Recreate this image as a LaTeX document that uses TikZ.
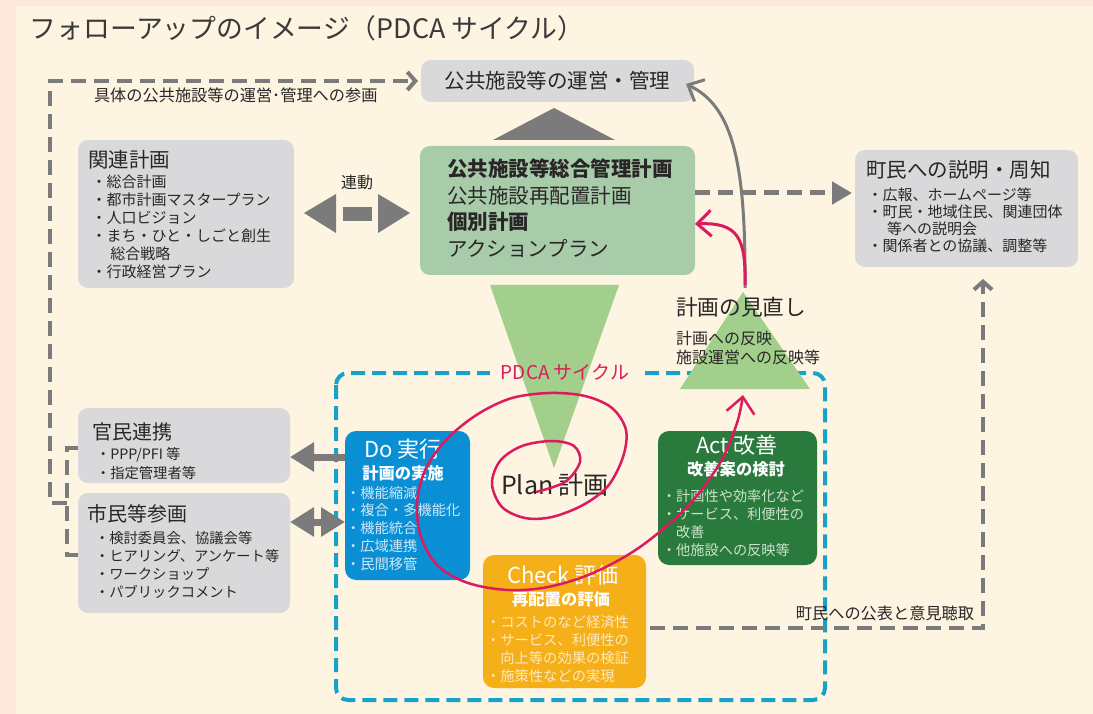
\documentclass[tikz,border=0pt]{standalone}
\usepackage{fontspec}
\setmainfont{Noto Sans CJK JP}
\usetikzlibrary{arrows.meta}
\definecolor{pinkbg}{HTML}{FBE8DA}
\definecolor{creambg}{HTML}{FDF4E1}
\definecolor{boxgray}{HTML}{D9D9DB}
\definecolor{sage}{HTML}{A8CCA9}
\definecolor{lgreen}{HTML}{A2CF8B}
\definecolor{agray}{HTML}{7B7B7B}
\definecolor{txt}{HTML}{2A2627}
\definecolor{titlec}{HTML}{3A3A3A}
\definecolor{doblue}{HTML}{0A8FD5}
\definecolor{doitem}{HTML}{CDE7F7}
\definecolor{actgreen}{HTML}{2B7A3D}
\definecolor{actitem}{HTML}{C9E4CA}
\definecolor{chkorange}{HTML}{F5AF19}
\definecolor{chkitem}{HTML}{FDE9BC}
\definecolor{cyanline}{HTML}{16A2C9}
\definecolor{mag}{HTML}{DC1A5E}
\newcommand\fs[2]{\fontsize{#1}{#2}\selectfont}
\tikzset{fathead/.tip={Triangle[length=24pt,width=28pt]}}
\begin{document}
\begin{tikzpicture}[x=1pt,y=-1pt,
  every node/.style={inner sep=0pt,outer sep=0pt},
  gbox/.style={fill=boxgray,rounded corners=10pt,anchor=north west},
  pbox/.style={rounded corners=11pt,anchor=north west},
  gdash/.style={draw=agray,line width=4pt,dash pattern=on 15pt off 8pt},
  fat/.style={draw=agray,line width=7pt},
  items/.style={anchor=north west,align=left},
]
% background
\fill[pinkbg] (0,0) rectangle (1093,714);
\fill[creambg] (16,6) rectangle (1093,714);

% title
\node[anchor=west,font=\fs{26.8}{30},text=titlec] (title) at (30,28) {フォローアップのイメージ（PDCA サイクル）};

% PDCA dashed frame
\draw[cyanline,line width=4pt,dash pattern=on 14pt off 7pt,rounded corners=12pt] (336,373) rectangle (825,700);
\fill[creambg] (490,364) rectangle (640,382);

% triangles
\fill[agray] (493,140) -- (615,140) -- (554,108) -- cycle;
\fill[lgreen] (490,285) -- (619,285) -- (554,468) -- cycle;
\fill[lgreen] (680,389) -- (810,389) -- (743,292) -- cycle;

\node[font=\fs{19}{22},text=mag] (pdcal) at (565,372) {PDCA サイクル};

% top box
\node[gbox,minimum width=273pt,minimum height=42pt,font=\fs{20.5}{24},text=txt] (unei) at (421,60) {公共施設等の運営・管理};

% related plans
\node[gbox,minimum width=216pt,minimum height=148pt] (kanren) at (78,140) {};
\node[anchor=west,font=\fs{20.5}{24},text=txt] (kanrenT) at (88,160) {関連計画};
\node[items,font=\fs{15}{18},text=txt] (kanrenI) at (91.5,175) {・総合計画\\・都市計画マスタープラン\\・人口ビジョン\\・まち・ひと・しごと創生\\\hspace{1.25em}総合戦略\\・行政経営プラン};

% rendo arrow
\node[font=\fs{16}{19},text=txt] (rendo) at (357,182) {連動};
\fill[agray] (304,213) -- (336,194) -- (336,233) -- cycle;
\fill[agray] (343,207) rectangle (372,221);
\fill[agray] (410,213) -- (378,194) -- (378,233) -- cycle;

% main green box
\node[pbox,fill=sage,rounded corners=10pt,minimum width=275pt,minimum height=129pt] (main) at (420,146) {};
\node[items,font=\fs{20.5}{26.5},text=txt] (mainT) at (447,159) {\bfseries 公共施設等総合管理計画\\公共施設再配置計画\\\bfseries 個別計画\\アクションプラン};

% town box
\node[gbox,minimum width=223pt,minimum height=117pt] (machi) at (855,150) {};
\node[anchor=west,font=\fs{20.5}{24},text=txt] (machiT) at (866,170) {町民への説明・周知};
\node[items,font=\fs{15}{17},text=txt] (machiI) at (867.5,187.5) {・広報、ホームページ等\\・町民・地域住民、関連団体\\\hspace{1.3em}等への説明会\\・関係者との協議、調整等};

% dashed green -> town
\draw[gdash,line width=5pt,-{Triangle[length=20pt,width=22pt]}] (main.east |- 0,193) -- ([xshift=-3pt]machi.west |- 0,193);

% review texts
\node[anchor=west,font=\fs{21.7}{25},text=txt] (minaoshi) at (676,307) {計画の見直し};
\node[items,font=\fs{16}{19},text=txt] (minaoshiI) at (676,331) {計画への反映\\施設運営への反映等};

% curved arrows
\coordinate (apex) at (745,288);
\coordinate (gtip) at (686,84);
\coordinate (mtip) at (695,224);
\draw[agray,line width=3pt,-{Straight Barb[length=13pt,width=24pt]}] (apex) .. controls (746,160) and (732,106) .. (gtip);
\draw[mag,line width=3pt,-{Straight Barb[length=14pt,width=26pt]}] ([yshift=3pt]apex) .. controls (746,238) and (738,222) .. (mtip);

% left boxes
\node[gbox,minimum width=212pt,minimum height=75pt] (kanmin) at (78,408) {};
\node[anchor=west,font=\fs{20}{24},text=txt] (kanminT) at (92,432) {官民連携};
\node[items,font=\fs{14.3}{19},text=txt] (kanminI) at (96,447) {・PPP/PFI 等\\・指定管理者等};
\node[gbox,minimum width=212pt,minimum height=120pt] (shimin) at (78,493) {};
\node[anchor=west,font=\fs{20}{24},text=txt] (shiminT) at (87,514) {市民等参画};
\node[items,font=\fs{14.3}{18},text=txt] (shiminI) at (95,531) {・検討委員会、協議会等\\・ヒアリング、アンケート等\\・ワークショップ\\・パブリックコメント};

% left dashed connectors
\draw[gdash] (kanmin.west |- 0,448) -- (67,448) -- (67,555) -- (shimin.west |- 0,555);
\draw[gdash,-{Straight Barb[length=8pt,width=18pt]}] (67,503) -- (50,503) -- (50,81) -- ([xshift=-3pt]unei.west);
\node[anchor=west,font=\fs{16.2}{18},text=txt] (sankaku) at (94,95) {具体の公共施設等の運営･管理への参画};

% Do
\node[pbox,fill=doblue,minimum width=125pt,minimum height=149pt] (do) at (345,431) {};
\node[font=\fs{22}{26},text=white] (doT) at (403,449) {Do 実行};
\node[font=\fs{16.3}{19}\bfseries,text=white] (doS) at (403,473) {計画の実施};
\node[items,font=\fs{14.3}{17.8},text=doitem] (doI) at (346,486) {・機能縮減\\・複合・多機能化\\・機能統合\\・広域連携\\・民間移管};

% Act
\node[pbox,fill=actgreen,minimum width=159pt,minimum height=134pt] (act) at (658,431) {};
\node[font=\fs{22}{26},text=white] (actT) at (737,445) {Act 改善};
\node[font=\fs{16.3}{19}\bfseries,text=white] (actS) at (736,469) {改善案の検討};
\node[items,font=\fs{14.2}{17.7},text=actitem] (actI) at (662,490) {・計画性や効率化など\\・サービス、利便性の\\\hspace{1em}改善\\・他施設への反映等};

% Check
\node[pbox,fill=chkorange,minimum width=163pt,minimum height=133pt] (chk) at (483,555) {};
\node[font=\fs{22}{26},text=white] (chkT) at (563,575) {Check 評価};
\node[font=\fs{16.3}{19}\bfseries,text=white] (chkS) at (561,599) {再配置の評価};
\node[items,font=\fs{14.3}{18},text=chkitem] (chkI) at (486,615) {・コストのなど経済性\\・サービス、利便性の\\\hspace{1em}向上等の効果の検証\\・施策性などの実現};

% Plan
\node[font=\fs{25}{30},text=txt] (plan) at (555,485) {Plan 計画};

% arrows between Do and left boxes
\draw[fat,-{fathead}] (do.west |- 0,457) -- (kanmin.east |- 0,457);
\draw[fat,{fathead}-{fathead}] (shimin.east |- 0,522) -- (do.west |- 0,522);

% check -> town dashed
\draw[gdash,-{Straight Barb[length=8pt,width=18pt]}] ([xshift=4pt]chk.east |- 0,628) -| ([yshift=-12pt]machi.south -| 983,0);
\node[font=\fs{16.2}{19},text=txt] (kohyo) at (885,613) {町民への公表と意見聴取};

% spiral
\coordinate (sptip) at (743,395);
\draw[mag,line width=2.5pt,-{Straight Barb[length=16pt,width=28pt]}] plot[smooth,tension=0.55] coordinates {(536,492) (565,482) (580,462) (574,446) (552,441) (522,446) (500,461) (492,484) (502,507) (525,518) (552,517) (583,505) (608,486) (623,457) (626,430) (612,408) (585,396) (550,393) (512,398) (478,414) (448,438) (426,468) (417,503) (421,537) (438,566) (468,583) (508,590) (548,587) (593,573) (640,547) (687,507) (720,463) (737,423) (sptip)};
\end{tikzpicture}
\end{document}
